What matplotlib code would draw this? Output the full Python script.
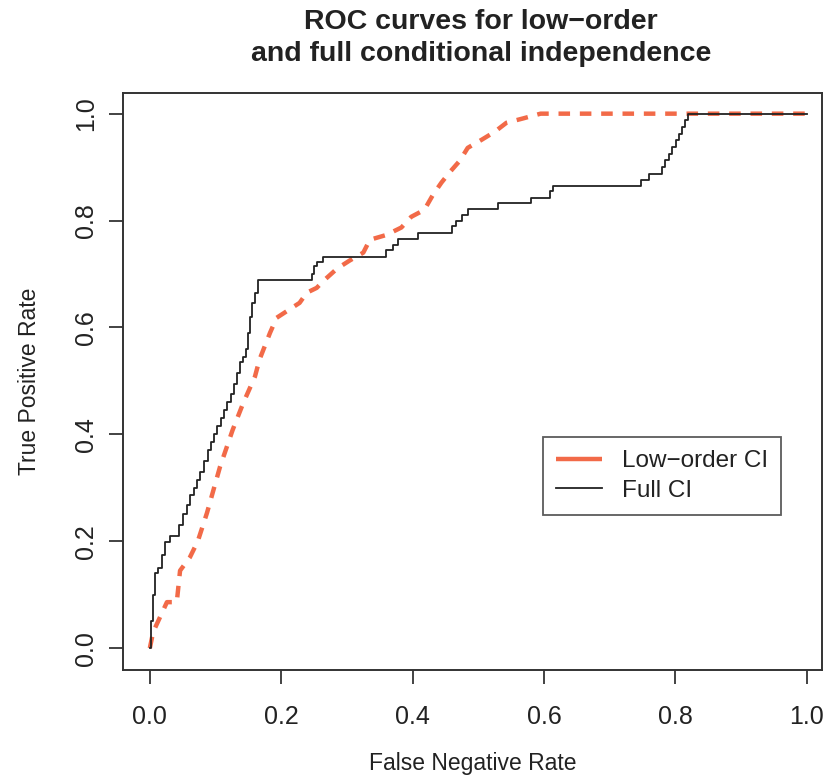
import matplotlib
matplotlib.use("Agg")
from matplotlib import pyplot as plt

plt.rcParams['font.family'] = ['Liberation Sans', 'DejaVu Sans']

# ROC points
full_fnr = [0.000, 0.002, 0.005, 0.008, 0.013, 0.018, 0.023, 0.030, 0.045, 0.050,
            0.056, 0.061, 0.067, 0.072, 0.077, 0.082, 0.088, 0.093, 0.098, 0.103,
            0.108, 0.113, 0.118, 0.123, 0.128, 0.133, 0.137, 0.142, 0.146, 0.149,
            0.152, 0.156, 0.160, 0.165, 0.247, 0.250, 0.254, 0.264, 0.360, 0.370,
            0.378, 0.408, 0.460, 0.466, 0.476, 0.485, 0.530, 0.580, 0.609, 0.614,
            0.748, 0.760, 0.780, 0.785, 0.790, 0.795, 0.801, 0.806, 0.810, 0.815,
            0.820, 1.000]
full_tpr = [0.000, 0.050, 0.100, 0.140, 0.150, 0.175, 0.198, 0.210, 0.230, 0.250,
            0.268, 0.287, 0.300, 0.315, 0.330, 0.350, 0.370, 0.385, 0.400, 0.415,
            0.430, 0.445, 0.460, 0.475, 0.495, 0.515, 0.535, 0.545, 0.560, 0.590,
            0.620, 0.645, 0.665, 0.688, 0.700, 0.715, 0.723, 0.732, 0.745, 0.755,
            0.766, 0.777, 0.790, 0.800, 0.810, 0.822, 0.832, 0.843, 0.855, 0.865,
            0.876, 0.888, 0.900, 0.914, 0.925, 0.938, 0.950, 0.962, 0.975, 0.988,
            1.000, 1.000]

low_fnr = [0.000, 0.005, 0.020, 0.026, 0.041, 0.046, 0.061, 0.073, 0.087, 0.107,
           0.126, 0.142, 0.160, 0.167, 0.183, 0.193, 0.208, 0.228, 0.239, 0.254,
           0.266, 0.285, 0.304, 0.325, 0.335, 0.360, 0.383, 0.398, 0.418, 0.431,
           0.444, 0.457, 0.472, 0.484, 0.505, 0.525, 0.543, 0.568, 0.595, 1.000]
low_tpr = [0.000, 0.030, 0.070, 0.086, 0.086, 0.145, 0.170, 0.200, 0.253, 0.340,
           0.408, 0.458, 0.508, 0.540, 0.590, 0.618, 0.630, 0.646, 0.665, 0.674,
           0.689, 0.710, 0.725, 0.740, 0.764, 0.773, 0.787, 0.807, 0.820, 0.848,
           0.871, 0.891, 0.912, 0.936, 0.951, 0.966, 0.983, 0.991, 1.000, 1.000]

ticks = [0.0, 0.2, 0.4, 0.6, 0.8, 1.0]
red = '#f26a48'
ink = '#222222'

fig = plt.figure(figsize=(8.25, 7.8), dpi=100)
ax = fig.add_axes([0.149, 0.141, 0.847, 0.740])

low_line, = ax.plot(low_fnr, low_tpr, color=red, lw=3.2, solid_capstyle='butt')
low_line.set_dashes([2.6, 2.2])
full_line, = ax.plot(full_fnr, full_tpr, color=ink, lw=1.3, drawstyle='steps-post')

ax.set_xlim(-0.041, 1.023)
ax.set_ylim(-0.041, 1.039)
ax.set_xticks(ticks)
ax.set_yticks(ticks)
ax.set_xticklabels(['%.1f' % t for t in ticks])
ax.set_yticklabels(['%.1f' % t for t in ticks], rotation=90, va='center')
ax.tick_params(length=10, width=1.2, colors=ink, labelsize=18)
ax.tick_params(axis='x', pad=15)
ax.tick_params(axis='y', pad=8)
for s in ax.spines.values():
    s.set_linewidth(1.4)
    s.set_color('#333333')

ax.set_xlabel('False Negative Rate', fontsize=16.5, color=ink, labelpad=17)
ax.set_ylabel('True Positive Rate', fontsize=16.5, color=ink, labelpad=24)
fig.text(0.583, 0.951, 'ROC curves for low\u2212order\nand full conditional independence',
         ha='center', va='center', fontsize=20.5, fontweight='bold', color=ink,
         linespacing=1.3)

leg = ax.legend([low_line, full_line], ['Low\u2212order CI', 'Full CI'],
                loc='upper left', bbox_to_anchor=(0.598, 0.395),
                bbox_transform=ax.transData, borderaxespad=0, fontsize=17.5,
                frameon=True, fancybox=False, handlelength=1.9, borderpad=0.55,
                labelspacing=0.3, handletextpad=0.8)
leg.get_frame().set_edgecolor('#333333')
leg.get_frame().set_linewidth(1.3)
for h in leg.get_lines():
    h.set_linestyle('-')
for t in leg.get_texts():
    t.set_color(ink)

fig.savefig('out.png', dpi=100)
